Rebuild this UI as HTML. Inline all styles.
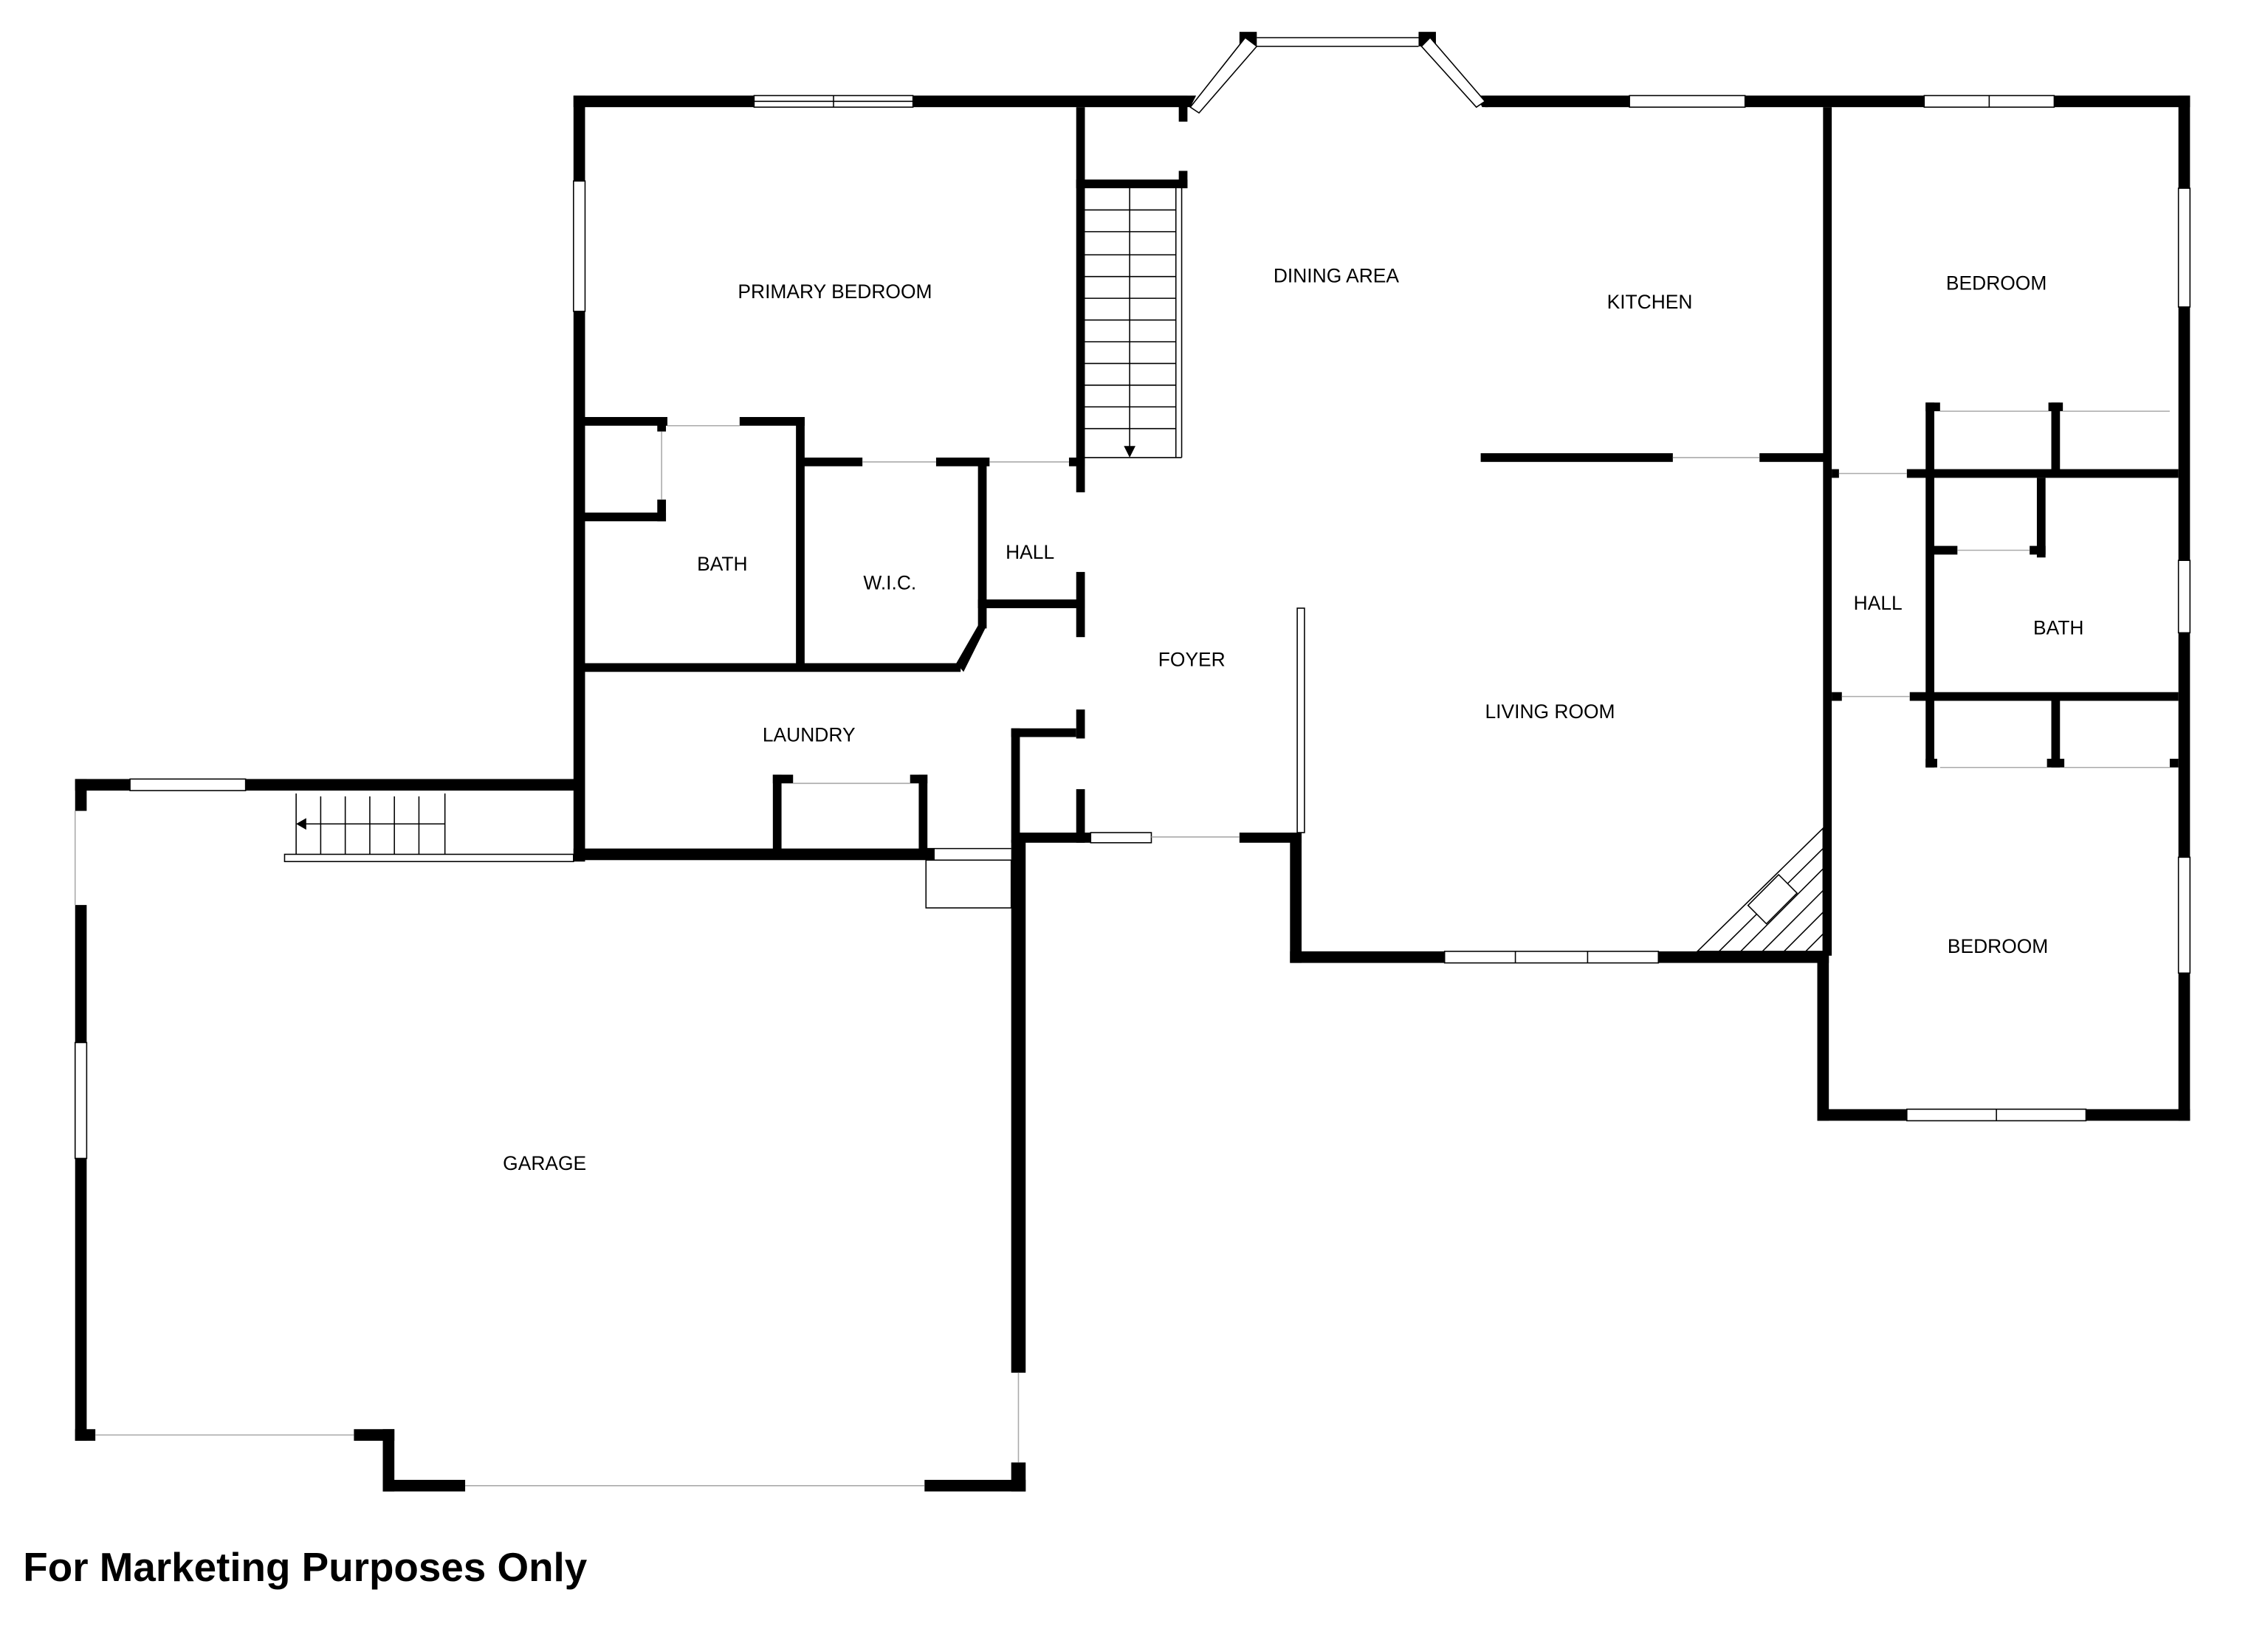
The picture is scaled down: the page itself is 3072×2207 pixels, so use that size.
<!DOCTYPE html>
<html><head><meta charset="utf-8"><style>
html,body{margin:0;padding:0;background:#fff;}
svg{display:block;}
text{font-family:"Liberation Sans",Arial,sans-serif;fill:#000;}
</style></head><body>
<svg width="3072" height="2207" viewBox="0 0 1570 1125" preserveAspectRatio="none" xmlns="http://www.w3.org/2000/svg">
<g fill="#000">
<rect x="397" y="66" width="425" height="8"/>
<rect x="397" y="66" width="8" height="529"/>
<rect x="745" y="74" width="6" height="266"/>
<rect x="745" y="395" width="6" height="45"/>
<rect x="745" y="490" width="6" height="20"/>
<rect x="745" y="545" width="6" height="37"/>
<rect x="745" y="124" width="77" height="6"/>
<rect x="816" y="70" width="6" height="14"/>
<rect x="816" y="118" width="6" height="12"/>
<rect x="1028" y="66" width="488" height="8"/>
<rect x="1508" y="66" width="8" height="708"/>
<rect x="1262" y="74" width="6" height="586"/>
<rect x="1258" y="658" width="8" height="116"/>
<rect x="1258" y="766" width="258" height="8"/>
<rect x="1025" y="313" width="133" height="6"/>
<rect x="1218" y="313" width="46" height="6"/>
<rect x="1333" y="278" width="6" height="252"/>
<rect x="1333" y="278" width="10" height="6"/>
<rect x="1418" y="278" width="10" height="6"/>
<rect x="1420" y="278" width="6" height="50"/>
<rect x="1268" y="324" width="5" height="6"/>
<rect x="1320" y="324" width="188" height="6"/>
<rect x="1410" y="330" width="6" height="55"/>
<rect x="1339" y="377" width="16" height="6"/>
<rect x="1405" y="377" width="11" height="6"/>
<rect x="1268" y="478" width="7" height="6"/>
<rect x="1322" y="478" width="186" height="6"/>
<rect x="1420" y="484" width="6" height="46"/>
<rect x="1333" y="524" width="8" height="6"/>
<rect x="1417" y="524" width="12" height="6"/>
<rect x="1502" y="524" width="6" height="6"/>
<rect x="893" y="657" width="373" height="8"/>
<rect x="893" y="575" width="8" height="90"/>
<rect x="705" y="575" width="50" height="7"/>
<rect x="858" y="575" width="43" height="7"/>
<rect x="555" y="316" width="42" height="6"/>
<rect x="648" y="316" width="37" height="6"/>
<rect x="740" y="316" width="11" height="6"/>
<rect x="677" y="318" width="6" height="100"/>
<rect x="677" y="414" width="74" height="6"/>
<rect x="400" y="288" width="62" height="6"/>
<rect x="512" y="288" width="45" height="6"/>
<rect x="551" y="288" width="6" height="174"/>
<rect x="455" y="288" width="6" height="10"/>
<rect x="455" y="345" width="6" height="15"/>
<rect x="400" y="354" width="61" height="6"/>
<rect x="400" y="458" width="265" height="6"/>
<polygon points="662,458 677,432 683,432 667,464"/>
<rect x="677" y="418" width="6" height="16"/>
<rect x="397" y="586" width="250" height="8"/>
<rect x="535" y="535" width="6" height="55"/>
<rect x="535" y="535" width="14" height="6"/>
<rect x="630" y="535" width="12" height="6"/>
<rect x="636" y="535" width="6" height="55"/>
<rect x="700" y="503" width="6" height="79"/>
<rect x="700" y="503" width="45" height="6"/>
<rect x="52" y="538" width="38" height="8"/>
<rect x="170" y="538" width="233" height="8"/>
<rect x="52" y="538" width="8" height="22"/>
<rect x="52" y="625" width="8" height="95"/>
<rect x="52" y="800" width="8" height="195"/>
<rect x="52" y="987" width="14" height="8"/>
<rect x="245" y="987" width="28" height="8"/>
<rect x="265" y="987" width="8" height="43"/>
<rect x="265" y="1022" width="57" height="8"/>
<rect x="640" y="1022" width="70" height="8"/>
<rect x="700" y="580" width="10" height="368"/>
<rect x="700" y="1010" width="10" height="20"/>
<polygon points="818,66 828,66 824,74 818,74"/>
<polygon points="1022,66 1030,66 1030,74 1026,74"/>
<rect x="858" y="22" width="12" height="10"/>
<rect x="982" y="22" width="12" height="10"/>
</g>
<g fill="#fff" stroke="#000" stroke-width="0.8">
<rect x="522" y="66" width="110" height="8"/>
<line x1="577" y1="66" x2="577" y2="74"/>
<line x1="522" y1="70" x2="632" y2="70"/>
<rect x="397" y="125" width="8" height="90"/>
<rect x="1128" y="66" width="80" height="8"/>
<rect x="1332" y="66" width="90" height="8"/>
<line x1="1377" y1="66" x2="1377" y2="74"/>
<rect x="1508" y="130" width="8" height="82"/>
<rect x="1508" y="387" width="8" height="50"/>
<rect x="1508" y="592" width="8" height="80"/>
<rect x="1320" y="766" width="124" height="8"/>
<line x1="1382" y1="766" x2="1382" y2="774"/>
<rect x="1000" y="657" width="148" height="8"/>
<line x1="1049" y1="657" x2="1049" y2="665"/>
<line x1="1099" y1="657" x2="1099" y2="665"/>
<rect x="755" y="575" width="42" height="7"/>
<rect x="90" y="538" width="80" height="8"/>
<rect x="52" y="720" width="8" height="80"/>
<polygon points="824,74 862,26 870,32 830,78"/>
<polygon points="990,26 1028,70 1022,74 984,32"/>
<line x1="870" y1="26" x2="982" y2="26"/>
<line x1="870" y1="32" x2="982" y2="32"/>
</g>
<g fill="none" stroke="#aaa" stroke-width="0.8">
<line x1="66" y1="991" x2="245" y2="991"/>
<line x1="322" y1="1026" x2="640" y2="1026"/>
<line x1="705" y1="948" x2="705" y2="1010"/>
<line x1="52" y1="560" x2="52" y2="625"/>
<line x1="1158" y1="316" x2="1218" y2="316"/>
<line x1="1343" y1="284" x2="1418" y2="284"/>
<line x1="1428" y1="284" x2="1502" y2="284"/>
<line x1="1343" y1="530" x2="1417" y2="530"/>
<line x1="1429" y1="530" x2="1502" y2="530"/>
<line x1="549" y1="541" x2="630" y2="541"/>
<line x1="597" y1="319" x2="648" y2="319"/>
<line x1="685" y1="319" x2="740" y2="319"/>
<line x1="462" y1="294" x2="512" y2="294"/>
<line x1="458" y1="298" x2="458" y2="345"/>
<line x1="1273" y1="327" x2="1320" y2="327"/>
<line x1="1275" y1="481" x2="1322" y2="481"/>
<line x1="1355" y1="380" x2="1405" y2="380"/>
<line x1="797" y1="578" x2="858" y2="578"/>
</g>
<g fill="none" stroke="#000" stroke-width="0.8">
<line x1="818" y1="130" x2="818" y2="316"/>
<line x1="814" y1="130" x2="814" y2="316"/>
<line x1="751" y1="316" x2="818" y2="316"/>
<line x1="782" y1="130" x2="782" y2="310"/>
<line x1="751" y1="145" x2="814" y2="145"/>
<line x1="751" y1="160" x2="814" y2="160"/>
<line x1="751" y1="176" x2="814" y2="176"/>
<line x1="751" y1="191" x2="814" y2="191"/>
<line x1="751" y1="206" x2="814" y2="206"/>
<line x1="751" y1="221" x2="814" y2="221"/>
<line x1="751" y1="236" x2="814" y2="236"/>
<line x1="751" y1="251" x2="814" y2="251"/>
<line x1="751" y1="266" x2="814" y2="266"/>
<line x1="751" y1="281" x2="814" y2="281"/>
<line x1="751" y1="296" x2="814" y2="296"/>
<rect x="898" y="420" width="5" height="155"/>
<line x1="205" y1="548" x2="205" y2="590"/>
<line x1="308" y1="548" x2="308" y2="590"/>
<line x1="222" y1="550" x2="222" y2="590"/>
<line x1="239" y1="550" x2="239" y2="590"/>
<line x1="256" y1="550" x2="256" y2="590"/>
<line x1="273" y1="550" x2="273" y2="590"/>
<line x1="290" y1="550" x2="290" y2="590"/>
<line x1="210" y1="569" x2="308" y2="569"/>
<rect x="197" y="590" width="200" height="5"/>
<rect x="641" y="594" width="59" height="33"/>
<line x1="641" y1="586" x2="700" y2="586"/>
<polygon points="1175,657 1262,572 1262,657"/>
<line x1="1190" y1="657" x2="1262" y2="586"/>
<line x1="1205" y1="657" x2="1262" y2="600"/>
<line x1="1220" y1="657" x2="1262" y2="615"/>
<line x1="1235" y1="657" x2="1262" y2="630"/>
<line x1="1250" y1="657" x2="1262" y2="645"/>
<rect x="1212" y="612" width="30" height="18" transform="rotate(-45 1227 621)" fill="#fff"/>
</g>
<polygon points="778,308 786,308 782,316" fill="#000"/>
<polygon points="205,569 212,565 212,573" fill="#000"/>
<g font-size="13.5" text-anchor="middle">
<text x="578" y="206">PRIMARY BEDROOM</text>
<text x="925" y="195">DINING AREA</text>
<text x="1142" y="213">KITCHEN</text>
<text x="1382" y="200">BEDROOM</text>
<text x="500" y="394">BATH</text>
<text x="616" y="407">W.I.C.</text>
<text x="713" y="386">HALL</text>
<text x="825" y="460">FOYER</text>
<text x="1300" y="421">HALL</text>
<text x="1425" y="438">BATH</text>
<text x="1073" y="496">LIVING ROOM</text>
<text x="560" y="512">LAUNDRY</text>
<text x="1383" y="658">BEDROOM</text>
<text x="377" y="808">GARAGE</text>
</g>
<text x="16" y="1092" font-size="28" font-weight="bold">For Marketing Purposes Only</text>
</svg>
</body></html>
